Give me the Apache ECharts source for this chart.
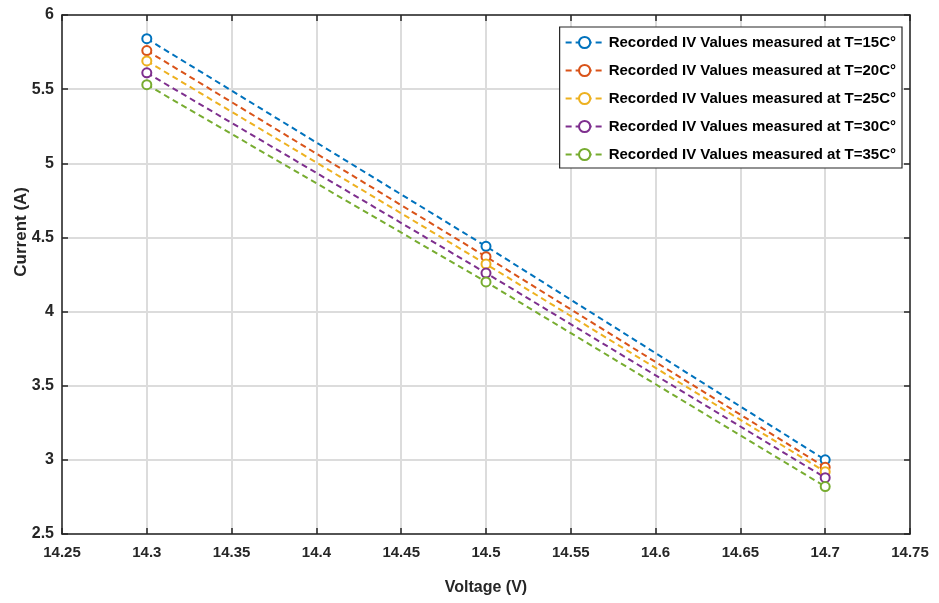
<!DOCTYPE html>
<html><head><meta charset="utf-8">
<script src="https://cdn.jsdelivr.net/npm/echarts@6/dist/echarts.min.js"></script>
<style>html,body{margin:0;padding:0;background:#fff}#c{width:939px;height:603px}</style>
</head><body><div id="c"></div>
<script>
const voltage = [14.3, 14.5, 14.7];
const seriesNames = [
  'Recorded IV Values measured at T=15C°',
  'Recorded IV Values measured at T=20C°',
  'Recorded IV Values measured at T=25C°',
  'Recorded IV Values measured at T=30C°',
  'Recorded IV Values measured at T=35C°'
];
const current15 = [5.84, 4.44, 3.00];
const current20 = [5.76, 4.37, 2.95];
const current25 = [5.69, 4.32, 2.92];
const current30 = [5.61, 4.26, 2.88];
const current35 = [5.53, 4.20, 2.82];
const colors = ['#0072BD', '#D95319', '#EDB120', '#7E2F8E', '#77AC30'];
const xTicks = [14.25, 14.3, 14.35, 14.4, 14.45, 14.5, 14.55, 14.6, 14.65, 14.7, 14.75];
const yTicks = [2.5, 3, 3.5, 4, 4.5, 5, 5.5, 6];

const FONT = '"Liberation Sans Narrow", "Arial Narrow", "Liberation Sans", Arial, sans-serif';
const allData = [current15, current20, current25, current30, current35];

const series = allData.map((d, i) => ({
  name: seriesNames[i],
  type: 'line',
  data: voltage.map((v, j) => [v, d[j]]),
  symbol: 'emptyCircle',
  symbolSize: 9,
  lineStyle: { type: [6, 4], width: 2, color: colors[i] },
  itemStyle: { color: colors[i], borderColor: colors[i], borderWidth: 2 },
  color: colors[i],
  z: 3
}));

const axisCommon = {
  axisLine: { show: true, onZero: false, lineStyle: { color: '#262626', width: 1.5 } },
  axisTick: { show: true, inside: true, length: 6, lineStyle: { color: '#262626', width: 1.5 } },
};

const chart = echarts.init(document.getElementById('c'));
chart.setOption({
  animation: false,
  grid: { left: 62, right: 29, top: 15, bottom: 69, containLabel: false },
  legend: {
    orient: 'vertical',
    right: 37, top: 27,
    backgroundColor: '#fff',
    borderColor: '#262626', borderWidth: 1.2,
    padding: [8, 6, 6, 5],
    itemGap: 13,
    itemWidth: 38, itemHeight: 14,
    textStyle: { fontFamily: FONT, fontWeight: 'bold', fontSize: 15, color: '#000' },
    data: seriesNames
  },
  xAxis: [{
    type: 'value', min: 14.25, max: 14.75, interval: 0.05,
    ...axisCommon,
    axisLabel: { fontFamily: FONT, fontWeight: 'bold', fontSize: 15, color: '#262626', margin: 11,
      formatter: v => String(+v.toFixed(2)) },
    splitLine: { show: true, lineStyle: { color: '#dcdcdc', width: 2 } },
    name: 'Voltage (V)', nameLocation: 'middle', nameGap: 46,
    nameTextStyle: { fontFamily: FONT, fontWeight: 'bold', fontSize: 16, color: '#262626' }
  }, {
    type: 'value', min: 14.25, max: 14.75, interval: 0.05, position: 'top',
    ...axisCommon, axisLabel: { show: false }, splitLine: { show: false }
  }],
  yAxis: [{
    type: 'value', min: 2.5, max: 6, interval: 0.5,
    ...axisCommon,
    axisLabel: { fontFamily: FONT, fontWeight: 'bold', fontSize: 16, color: '#262626', margin: 8 },
    splitLine: { show: true, lineStyle: { color: '#dcdcdc', width: 2 } }
  }, {
    type: 'value', min: 2.5, max: 6, interval: 0.5, position: 'right',
    ...axisCommon, axisLabel: { show: false }, splitLine: { show: false }
  }],
  graphic: [{
    type: 'text', left: 13, top: 187,
    rotation: Math.PI / 2,
    style: { text: 'Current (A)', fontFamily: '"Liberation Sans", Arial, sans-serif', fontWeight: 'bold', fontSize: 17, fill: '#262626' }
  }],
  series
});
</script></body></html>
